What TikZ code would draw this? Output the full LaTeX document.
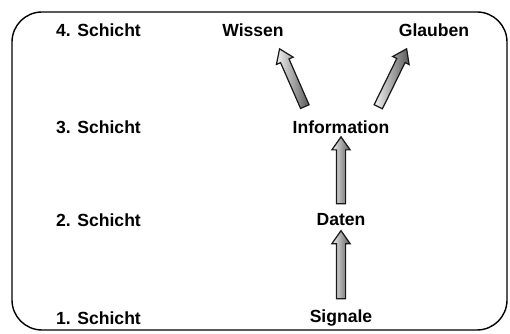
\documentclass[tikz,border=0pt]{standalone}
\usepackage{fontspec}
\setmainfont{Liberation Sans}
\usetikzlibrary{shapes.arrows}

\begin{document}
\begin{tikzpicture}
	\tikzstyle{tier}=[font=\bfseries, anchor=west]
	\tikzstyle{term}=[font=\bfseries]
	\tikzstyle{fatarrow}=[single arrow, draw=black!90, line width=0.7pt, inner sep=0.08cm, minimum width=0.34cm,
	                     single arrow head extend=0.09cm, single arrow tip angle=70, sloped, allow upside down,
	                     left color=gray!10, right color=gray!70!black]

	\useasboundingbox (0,0) rectangle (10.2,6.68);
	\draw[line width=0.8pt, rounded corners=0.6cm] (0.24,0.08) rectangle (10.14,6.44);

	\node [tier] (t4) at (1.0,6.08) {4. Schicht};
	\node [tier] (t3) at (1.0,4.14) {3. Schicht};
	\node [tier] (t2) at (1.0,2.28) {2. Schicht};
	\node [tier] (t1) at (1.0,0.32) {1. Schicht};

	\node [term] (wis) at (5.06,6.08) {Wissen};
	\node [term] (glb) at (8.68,6.08) {Glauben};
	\node [term] (inf) at (6.82,4.14) {Information};
	\node [term] (dat) at (6.82,2.28) {Daten};
	\node [term] (sig) at (6.82,0.32) {Signale};

	\path (sig) -- node[fatarrow, minimum height=1.36cm] {} (dat);
	\path (dat) -- node[fatarrow, minimum height=1.34cm] {} (inf);
	\path ([xshift=-0.7cm,yshift=0.1cm]inf.north) -- node[fatarrow, minimum height=1.26cm] {} ([xshift=0.56cm,yshift=-0.19cm]wis.south);
	\path ([xshift=0.72cm,yshift=0.1cm]inf.north) -- node[fatarrow, minimum height=1.29cm] {} ([xshift=-0.58cm,yshift=-0.19cm]glb.south);
\end{tikzpicture}
\end{document}
